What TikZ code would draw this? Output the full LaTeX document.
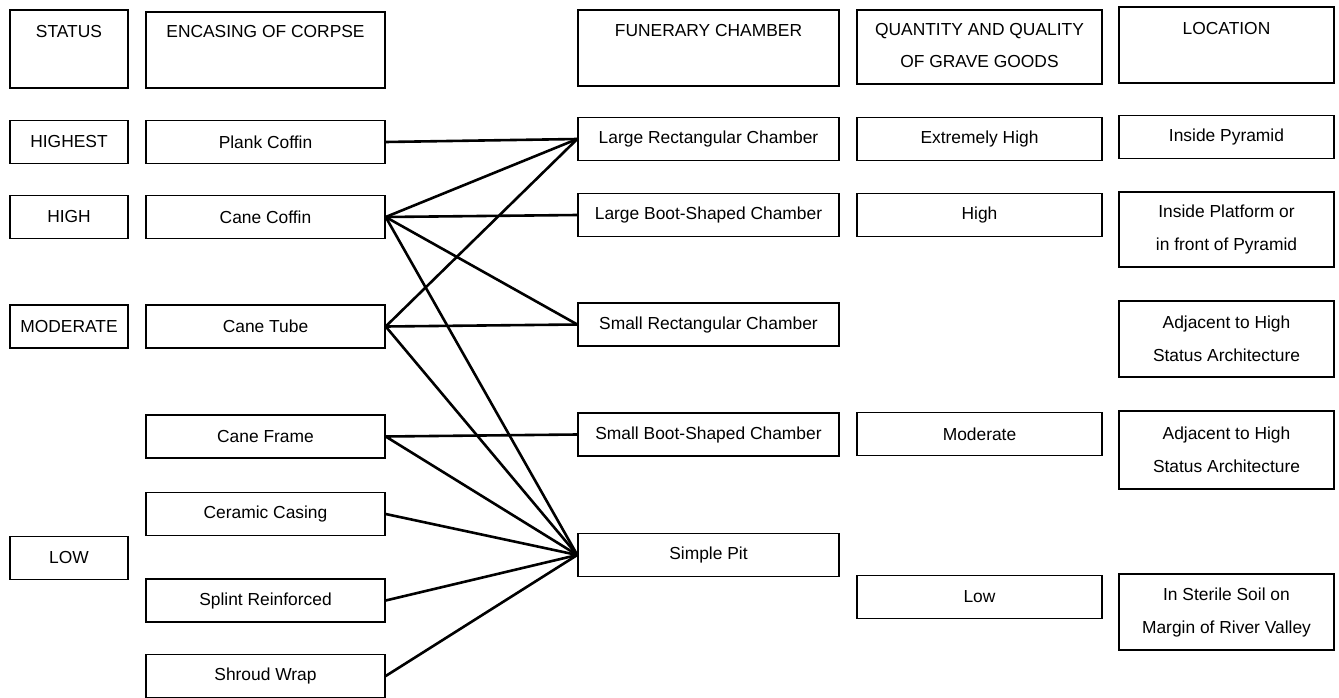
\documentclass[tikz,border=0pt]{standalone}
\usepackage{fontspec}
\setmainfont{Liberation Sans}
\usetikzlibrary{positioning}

\tikzset{
	box/.style={draw, line width=1.4pt, inner sep=0pt, minimum height=43pt, align=center, font=\fontsize{17.4}{33}\selectfont},
	stat/.style={box, minimum width=118pt},
	encase/.style={box, minimum width=239pt},
	chamber/.style={box, minimum width=261pt},
	goods/.style={box, minimum width=245pt},
	place/.style={box, minimum width=215pt},
	headtext/.style={inner sep=0pt, align=center, font=\fontsize{17.4}{32}\selectfont},
	link/.style={line width=2.6pt, line cap=round}
}

\begin{document}
\begin{tikzpicture}[x=1pt, y=-1pt]
	\useasboundingbox (0,0) rectangle (1339,698);

	% headers
	\node[stat, minimum height=78pt] (hstatus) at (69,49) {};
	\node[encase, minimum height=76pt] (hencase) at (265.5,50) {};
	\node[chamber, minimum height=76pt] (hchamber) at (708.5,48) {};
	\node[goods, minimum height=74pt] (hgoods) at (979.5,47) {};
	\node[place, minimum height=76pt] (hplace) at (1226.5,45) {};
	\node[headtext, below=16pt of hstatus.north] (tstatus) {STATUS};
	\node[headtext, below=14pt of hencase.north] (tencase) {ENCASING OF CORPSE};
	\node[headtext, below=15pt of hchamber.north] (tchamber) {FUNERARY CHAMBER};
	\node[headtext, below=14pt of hgoods.north] (tgoods) {QUANTITY AND QUALITY\\OF GRAVE GOODS};
	\node[headtext, below=16pt of hplace.north] (tplace) {LOCATION};

	% status
	\node[stat] (highest) at (69,142) {HIGHEST};
	\node[stat] (high) at (69,217) {HIGH};
	\node[stat] (moderate) at (69,326.5) {MODERATE};
	\node[stat] (low) at (69,558) {LOW};

	% encasing of corpse
	\node[encase] (plank) at (265.5,142) {Plank Coffin};
	\node[encase] (canecoffin) at (265.5,217) {Cane Coffin};
	\node[encase] (canetube) at (265.5,326.5) {Cane Tube};
	\node[encase] (caneframe) at (265.5,436.5) {Cane Frame};
	\node[encase] (ceramic) at (265.5,514) {Ceramic Casing};
	\node[encase] (splint) at (265.5,600.5) {Splint Reinforced};
	\node[encase] (shroud) at (265.5,676) {Shroud Wrap};

	% funerary chamber
	\node[chamber] (largerect) at (708.5,139) {Large Rectangular Chamber};
	\node[chamber] (largeboot) at (708.5,215) {Large Boot-Shaped Chamber};
	\node[chamber] (smallrect) at (708.5,324.5) {Small Rectangular Chamber};
	\node[chamber] (smallboot) at (708.5,434.5) {Small Boot-Shaped Chamber};
	\node[chamber] (pit) at (708.5,555) {Simple Pit};

	% grave goods
	\node[goods] (extreme) at (979.5,139) {Extremely High};
	\node[goods] (ghigh) at (979.5,215) {High};
	\node[goods] (gmoderate) at (979.5,434) {Moderate};
	\node[goods] (glow) at (979.5,597) {Low};

	% location
	\node[place] (pyramid) at (1226.5,137) {Inside Pyramid};
	\node[place, minimum height=75pt] (platform) at (1226.5,229.5) {Inside Platform or\\in front of Pyramid};
	\node[place, minimum height=76pt] (adjacent) at (1226.5,339) {Adjacent to High\\Status Architecture};
	\node[place, minimum height=78pt] (adjacentb) at (1226.5,450) {Adjacent to High\\Status Architecture};
	\node[place, minimum height=76pt] (sterile) at (1226.5,612) {In Sterile Soil on\\Margin of River Valley};

	% links
	\draw[link] (plank.east) -- (largerect.west);
	\foreach \c in {largerect,largeboot,smallrect,pit}
		\draw[link] (canecoffin.east) -- (\c.west);
	\foreach \c in {largerect,smallrect,pit}
		\draw[link] (canetube.east) -- (\c.west);
	\draw[link] (caneframe.east) -- (smallboot.west);
	\foreach \e in {caneframe,ceramic,splint,shroud}
		\draw[link] (\e.east) -- (pit.west);
\end{tikzpicture}
\end{document}
